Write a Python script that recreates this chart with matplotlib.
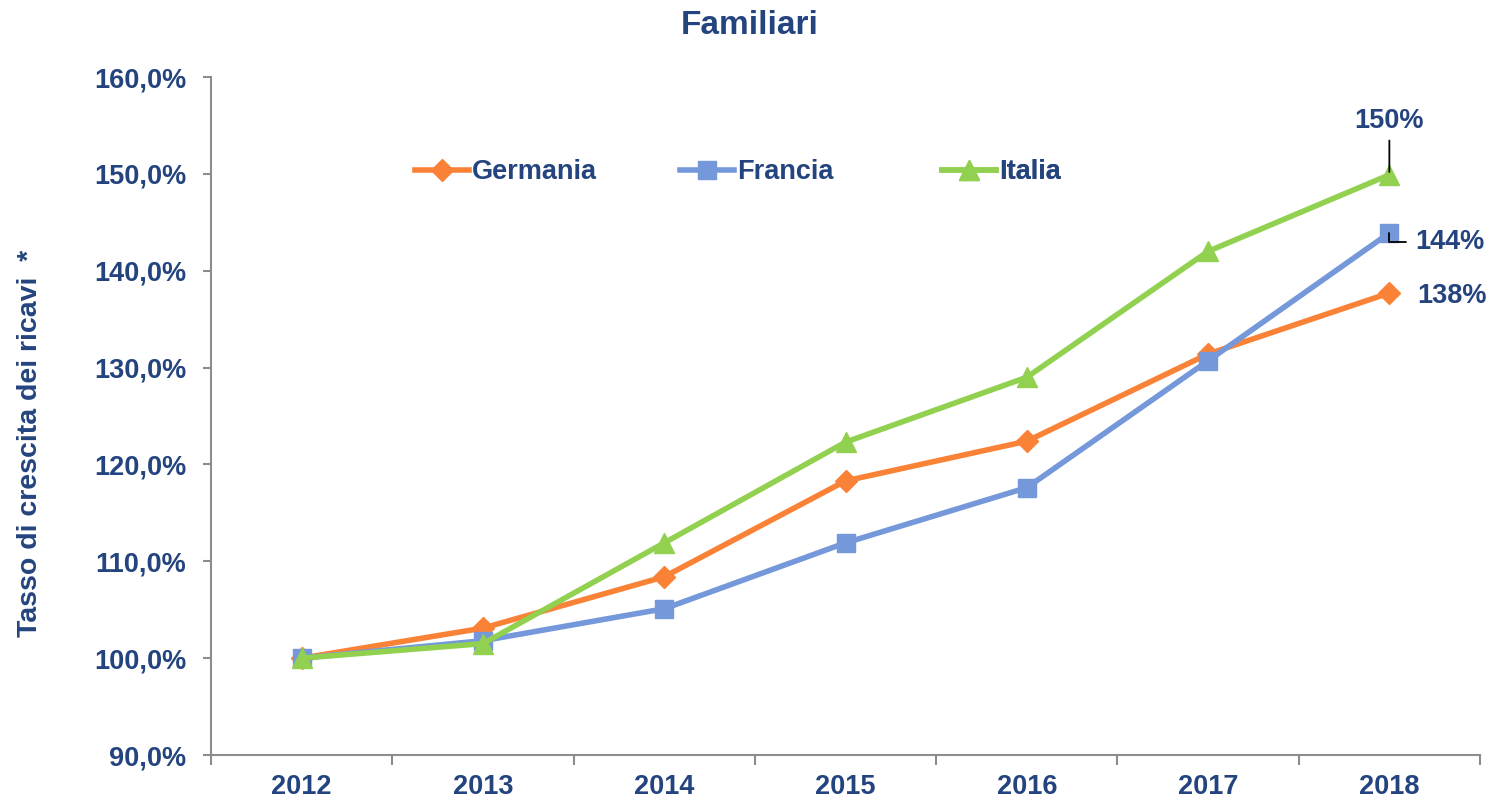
import matplotlib
matplotlib.use("Agg")
import matplotlib.pyplot as plt
from matplotlib.ticker import FuncFormatter, FixedLocator

years = ["2012", "2013", "2014", "2015", "2016", "2017", "2018"]
germania = [100.0, 103.1, 108.4, 118.3, 122.4, 131.4, 137.7]
francia = [100.0, 101.8, 105.1, 111.9, 117.6, 130.7, 143.9]
italia = [100.0, 101.5, 111.9, 122.3, 129.0, 142.0, 149.9]
y_ticks = [90, 100, 110, 120, 130, 140, 150, 160]

TXT = "#24447F"
C_GER = "#FA8236"
C_FRA = "#7498DA"
C_ITA = "#92D050"
GRID = "#8C8C8C"
FS = 19.5

plt.rcParams['font.family'] = ['Liberation Sans', 'DejaVu Sans']
plt.rcParams['font.weight'] = 'bold'

fig = plt.figure(figsize=(14.95, 8.02), dpi=100)
ax = fig.add_axes([211/1495, 1-755/802, (1480-211)/1495, (755-77)/802])

x = list(range(len(years)))
l1, = ax.plot(x, germania, color=C_GER, lw=4, marker="D", ms=11.5, label="Germania", zorder=3)
l2, = ax.plot(x, francia, color=C_FRA, lw=4, marker="s", ms=13, label="Francia", zorder=3)
l3, = ax.plot(x, italia, color=C_ITA, lw=4, marker="^", ms=14, label="Italia", zorder=4)

ax.set_xlim(-0.5, len(years) - 0.5)
ax.set_ylim(90, 160)
ax.yaxis.set_major_locator(FixedLocator(y_ticks))
ax.yaxis.set_major_formatter(FuncFormatter(lambda v, p: f"{v:.1f}%".replace(".", ",")))
ax.set_xticks(x)
ax.set_xticklabels(years)
ax.xaxis.set_minor_locator(FixedLocator([i - 0.5 for i in range(len(years) + 1)]))
ax.tick_params(axis="x", which="major", length=0, pad=14, labelsize=FS, labelcolor=TXT)
ax.tick_params(axis="x", which="minor", length=7, width=1.5, color=GRID, direction="out")
ax.tick_params(axis="y", length=6, width=1.5, color=GRID, direction="out", pad=12,
               labelsize=FS, labelcolor=TXT)

for s in ["top", "right"]:
    ax.spines[s].set_visible(False)
for s in ["left", "bottom"]:
    ax.spines[s].set_color(GRID)
    ax.spines[s].set_linewidth(1.5)

for lab in ax.get_xticklabels() + ax.get_yticklabels():
    lab.set_fontweight("bold")

# Annotations at 2018
ax.annotate("150%", xy=(6, italia[-1] + 0.3), xytext=(6, 155.5), ha="center", va="center",
            fontsize=FS, fontweight="bold", color=TXT, zorder=6,
            arrowprops=dict(arrowstyle="-", color="black", lw=1.3, shrinkA=3, shrinkB=0))
ax.annotate("144%", xy=(6, francia[-1]), xytext=(6.336, 142.95), ha="center", va="center",
            fontsize=FS, fontweight="bold", color=TXT, zorder=6,
            arrowprops=dict(arrowstyle="-", color="black", lw=1.3, shrinkA=5, shrinkB=0,
                            connectionstyle="angle,angleA=0,angleB=90,rad=0"))
ax.text(6.347, 137.37, "138%", ha="center", va="center",
        fontsize=FS, fontweight="bold", color=TXT)

# Legend: three equally spaced entries
leg_y = (755 - 172) / 678
for line, name, px in [(l1, "Germania", 415), (l2, "Francia", 680), (l3, "Italia", 942)]:
    lg = ax.legend([line], [name], loc="center left",
                   bbox_to_anchor=((px - 211) / 1269, leg_y), frameon=False,
                   fontsize=FS, handlelength=2.0, handletextpad=0.1,
                   borderpad=0, borderaxespad=0, labelcolor=TXT)
    for t in lg.get_texts():
        t.set_fontweight("bold")
    ax.add_artist(lg)

fig.text(750 / 1495, 1 - 25 / 802, "Familiari", ha="center", va="center",
         fontsize=24, fontweight="bold", color=TXT)
fig.text(30 / 1495, 1 - 443 / 802, "Tasso di crescita dei ricavi  *", rotation=90,
         ha="center", va="center", fontsize=20.5, fontweight="bold", color=TXT)

fig.savefig("out.png", dpi=100)
